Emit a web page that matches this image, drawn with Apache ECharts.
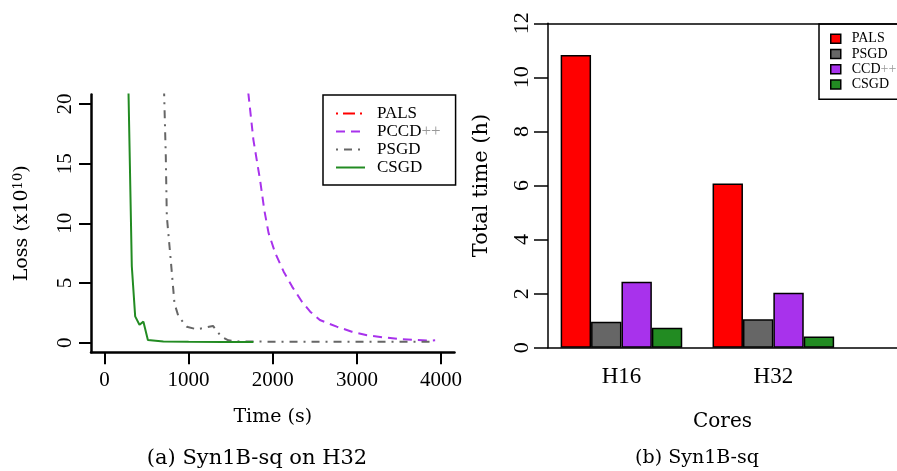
<!DOCTYPE html>
<html>
<head>
<meta charset="utf-8">
<script src="https://cdn.jsdelivr.net/npm/echarts@6/dist/echarts.min.js"></script>
<style>
  html, body { margin: 0; padding: 0; background: #fff; }
  #main { width: 897px; height: 471px; }
</style>
</head>
<body>
<div id="main"></div>
<script>
// (a) loss over time (loss in units of 1e10)
const palsTime = [];   // PALS does not show inside the plotted range
const palsLoss = [];
const pccdTime = [1690, 1770, 1850, 1900, 1950, 2030, 2130, 2230, 2345, 2445, 2560, 2760, 2940, 3120, 3310, 3490, 3690, 3870, 3930];
const pccdLoss = [22.2, 17.0, 13.6, 11.1, 9.2, 7.5, 5.95, 4.7, 3.45, 2.6, 1.9, 1.34, 0.92, 0.62, 0.45, 0.31, 0.23, 0.17, 0.2];
const psgdTime = [705, 729, 741, 788, 832, 879, 978, 1097, 1196, 1290, 1390, 1473, 1600, 2000, 2500, 3000, 3500, 3900];
const psgdLoss = [22, 15.6, 10.6, 6.9, 3.3, 2.2, 1.34, 1.12, 1.26, 1.4, 0.5, 0.2, 0.1, 0.08, 0.08, 0.08, 0.08, 0.08];
const csgdTime = [283, 325, 365, 416, 463, 516, 700, 1000, 1400, 1770];
const csgdLoss = [22, 6.4, 2.2, 1.5, 1.76, 0.23, 0.1, 0.07, 0.06, 0.05];
const timeTicks = [0, 1000, 2000, 3000, 4000];
const lossTicks = [0, 5, 10, 15, 20];

// (b) total time in hours
const cores = ['H16', 'H32'];
const methods = ['PALS', 'PSGD', 'CCD++', 'CSGD'];
const palsHours = [10.83, 6.07];
const psgdHours = [0.96, 1.05];
const ccdHours = [2.44, 2.03];
const csgdHours = [0.74, 0.41];
const hourTicks = [0, 2, 4, 6, 8, 10, 12];

const RED = '#ff0000', PURPLE = '#a832ec', GRAY = '#666666', GREEN = '#228b22';
const NUM = 'Liberation Serif';
const TXT = 'DejaVu Serif';

function pairs(xs, ys) { return xs.map((x, i) => [x, ys[i]]); }

// bar groups sit at 3 and 8 (R barplot units), plot runs past the right edge
const groupPos = cores.map((c, i) => 3 + 5 * i);
const barMin = 0.582, barMax = 12.07;
const hours = [palsHours, psgdHours, ccdHours, csgdHours];
const barColors = [RED, GRAY, PURPLE, GREEN];

var myChart = echarts.init(document.getElementById('main'));

const lineSeries = [
  { name: 'PALS', t: palsTime, v: palsLoss, color: RED, dash: [2, 5, 12, 5] },
  { name: 'PCCD++', t: pccdTime, v: pccdLoss, color: PURPLE, dash: [9, 6] },
  { name: 'PSGD', t: psgdTime, v: psgdLoss, color: GRAY, dash: [2, 6, 8, 6] },
  { name: 'CSGD', t: csgdTime, v: csgdLoss, color: GREEN, dash: 'solid' }
].map(s => ({
  name: s.name,
  type: 'line',
  xAxisIndex: 0,
  yAxisIndex: 0,
  data: pairs(s.t, s.v),
  symbol: 'none',
  clip: true,
  color: s.color,
  lineStyle: { color: s.color, width: 2, type: s.dash },
  animation: false
}));

const barSeries = methods.map((m, k) => ({
  name: m,
  type: 'bar',
  xAxisIndex: 1,
  yAxisIndex: 1,
  data: pairs(groupPos, hours[k]),
  barWidth: 30.4,
  barGap: '0%',
  color: barColors[k],
  itemStyle: { color: barColors[k], borderColor: '#000', borderWidth: 1.5 },
  animation: false
}));

option = {
  backgroundColor: '#fff',
  title: [
    { text: '(a) Syn1B-sq on H32', left: 252, top: 443, textAlign: 'center',
      textStyle: { fontFamily: TXT, fontWeight: 'normal', fontSize: 21, color: '#000' } },
    { text: '(b) Syn1B-sq', left: 692, top: 444, textAlign: 'center',
      textStyle: { fontFamily: TXT, fontWeight: 'normal', fontSize: 19, color: '#000' } }
  ],
  legend: [
    {
      data: ['PALS', 'PCCD++', 'PSGD', 'CSGD'],
      orient: 'vertical',
      left: 323, top: 95,
      padding: [9.5, 15, 8.5, 12],
      itemWidth: 29, itemHeight: 14, itemGap: 0,
      borderColor: '#000', borderWidth: 1.5,
      itemStyle: { opacity: 0 },
      formatter: n => n.replace('++', '{p|++}'),
      textStyle: { fontFamily: NUM, fontSize: 17, color: '#000', lineHeight: 18, padding: [0, 0, 0, 7],
        rich: { p: { fontFamily: NUM, fontSize: 17, color: '#999' } } }
    },
    {
      data: methods,
      orient: 'vertical',
      left: 819, top: 24,
      padding: [7, 40, 7, 11],
      icon: 'rect',
      itemWidth: 10, itemHeight: 9, itemGap: 0,
      borderColor: '#000', borderWidth: 1.5,
      itemStyle: { borderColor: '#000', borderWidth: 1.5 },
      formatter: n => n.replace('++', '{p|++}'),
      textStyle: { fontFamily: NUM, fontSize: 14, color: '#000', lineHeight: 15.3, padding: [0, 0, 0, 6],
        rich: { p: { fontFamily: NUM, fontSize: 14, color: '#999' } } }
    }
  ],
  grid: [
    { left: 91, right: 442.5, top: 94.5, bottom: 118.8 },
    { left: 548, right: 0, top: 23.3, bottom: 123.3 }
  ],
  xAxis: [
    {
      type: 'value', gridIndex: 0, min: -160, max: 4160,
      name: 'Time (s)', nameLocation: 'middle', nameGap: 55,
      nameTextStyle: { fontFamily: TXT, fontSize: 19, color: '#000' },
      axisLine: { onZero: false, lineStyle: { color: '#000', width: 2.5 } },
      axisTick: { customValues: timeTicks, length: 12, lineStyle: { color: '#000', width: 2 } },
      axisLabel: { customValues: timeTicks, formatter: v => String(v), margin: 18,
        fontFamily: NUM, fontSize: 21, color: '#000' },
      splitLine: { show: false }
    },
    {
      type: 'value', gridIndex: 1, min: barMin, max: barMax,
      name: 'Cores', nameLocation: 'middle', nameGap: 64,
      nameTextStyle: { fontFamily: TXT, fontSize: 20, color: '#000' },
      axisLine: { show: true, onZero: false, lineStyle: { color: '#000', width: 1.5 } },
      axisTick: { show: false },
      axisLabel: { customValues: groupPos, formatter: v => cores[groupPos.indexOf(v)],
        margin: 18, fontFamily: NUM, fontSize: 23, color: '#000' },
      splitLine: { show: false }
    },
    {
      // top edge of the box
      type: 'value', gridIndex: 1, position: 'top', min: barMin, max: barMax,
      axisLine: { show: true, onZero: false, lineStyle: { color: '#000', width: 1.5 } },
      axisTick: { show: false },
      axisLabel: { show: false },
      splitLine: { show: false }
    }
  ],
  yAxis: [
    {
      type: 'value', gridIndex: 0, min: -0.8, max: 20.8,
      name: '{a|Loss (x10}{s|10}{a|)}', nameLocation: 'middle', nameGap: 58, nameRotate: 90,
      nameTextStyle: { color: '#000',
        rich: { a: { fontFamily: TXT, fontSize: 19, color: '#000' },
                s: { fontFamily: TXT, fontSize: 13, color: '#000', verticalAlign: 'top', padding: [0, 0, 8, 0] } } },
      axisLine: { show: true, onZero: false, lineStyle: { color: '#000', width: 2.5 } },
      axisTick: { show: true, customValues: lossTicks, length: 12, lineStyle: { color: '#000', width: 2 } },
      axisLabel: { customValues: lossTicks, rotate: 90, margin: 15, fontFamily: NUM, fontSize: 21, color: '#000' },
      splitLine: { show: false }
    },
    {
      type: 'value', gridIndex: 1, min: 0, max: 12, interval: 2,
      name: 'Total time (h)', nameLocation: 'middle', nameGap: 56, nameRotate: 90,
      nameTextStyle: { fontFamily: TXT, fontSize: 21, color: '#000' },
      axisLine: { show: true, onZero: false, lineStyle: { color: '#000', width: 1.5 } },
      axisTick: { show: true, length: 14, lineStyle: { color: '#000', width: 1.5 } },
      axisLabel: { rotate: 90, margin: 15, fontFamily: NUM, fontSize: 22, color: '#000',
        formatter: v => hourTicks.includes(v) ? String(v) : '' },
      splitLine: { show: false }
    }
  ],
  series: lineSeries.concat(barSeries)
};

myChart.setOption(option);
</script>
</body>
</html>
